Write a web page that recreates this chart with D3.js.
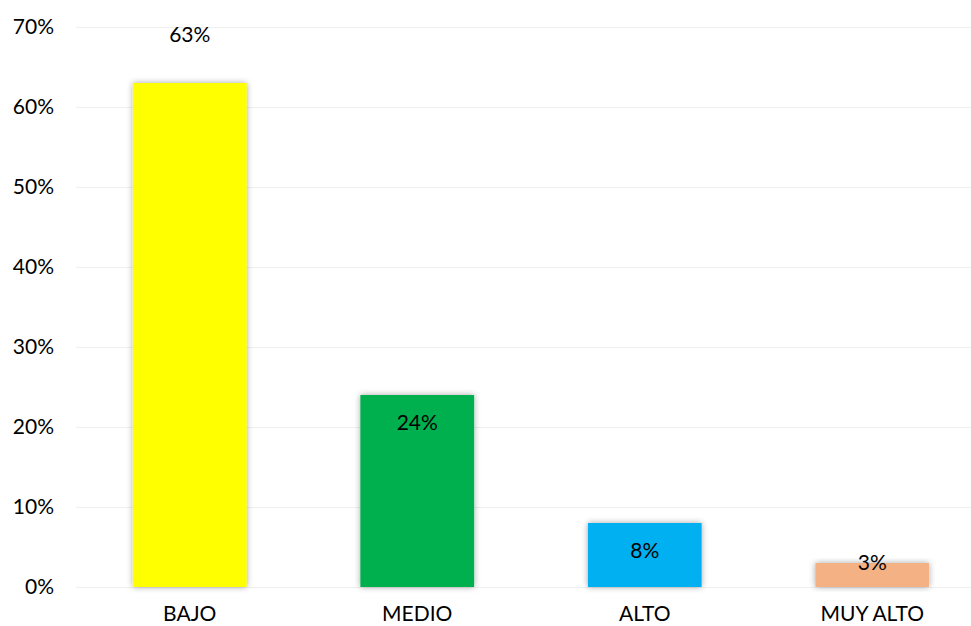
<!DOCTYPE html>
<html><head><meta charset="utf-8">
<script src="https://cdn.jsdelivr.net/npm/d3@7"></script>
<style>body{margin:0;background:#fff}svg{display:block}text{font-family:Lato,"Open Sans",sans-serif;fill:#000}</style>
</head><body><svg id="c" width="971" height="626"></svg>
<script>
const categories = ["BAJO","MEDIO","ALTO","MUY ALTO"];
const values = [63,24,8,3];
const colors = ["#FFFF00","#00B050","#00B0F0","#F4B183"];
const yTicks = [0,10,20,30,40,50,60,70];

const svg = d3.select("#c");
const x = d3.scaleBand().domain(categories).range([76,986]).paddingInner(0.5).paddingOuter(0.25);
const y = d3.scaleLinear().domain([0,70]).range([587,27]);

const defs = svg.append("defs");
const f = defs.append("filter").attr("id","sh").attr("x","-20%").attr("y","-20%").attr("width","140%").attr("height","140%");
f.append("feDropShadow").attr("dx",0).attr("dy",0).attr("stdDeviation",3).attr("flood-color","#000").attr("flood-opacity",0.35);

const yAxis = d3.axisLeft(y).tickValues(yTicks).tickFormat(d=>d+"%").tickSize(-(971-76)).tickPadding(22);
const ga = svg.append("g").attr("transform","translate(76,0)").call(yAxis);
ga.select(".domain").remove();
ga.selectAll(".tick line").attr("stroke","#efefef").attr("stroke-width",1);
ga.selectAll(".tick text").attr("font-size",21).attr("fill","#000").attr("font-family","Lato");

svg.append("g").selectAll("rect").data(values).join("rect")
  .attr("x",(d,i)=>x(categories[i])).attr("width",x.bandwidth())
  .attr("y",d=>y(d)).attr("height",d=>y(0)-y(d))
  .attr("fill",(d,i)=>colors[i]).attr("filter","url(#sh)");

const xAxis = d3.axisBottom(x).tickSize(0).tickPadding(19);
const gx = svg.append("g").attr("transform","translate(0,587)").call(xAxis);
gx.select(".domain").remove();
gx.selectAll(".tick text").attr("font-size",21).attr("fill","#000").attr("font-family","Lato");

// data labels (Excel-like positions)
const labelY = (d,i)=> i===0 ? y(70)+8 : (y(d)+28 > y(0)-10 ? y(d) : y(d)+28);
svg.append("g").selectAll("text").data(values).join("text")
  .attr("x",(d,i)=>x(categories[i])+x.bandwidth()/2)
  .attr("y",(d,i)=>labelY(d,i)).attr("dy","0.35em")
  .attr("text-anchor","middle").attr("font-size",21)
  .text(d=>d+"%");
</script></body></html>
